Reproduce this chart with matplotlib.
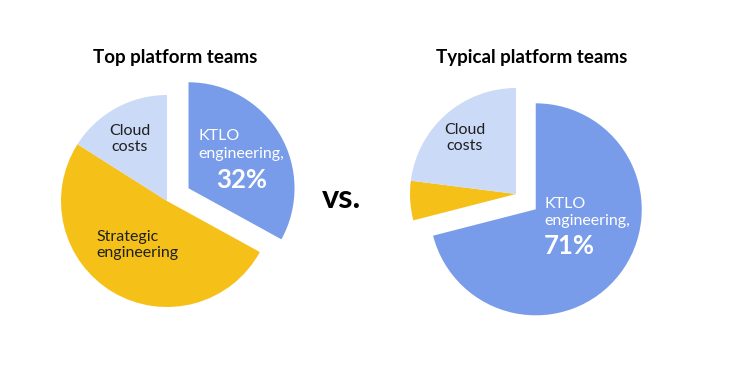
import matplotlib
matplotlib.use("Agg")
import matplotlib.pyplot as plt

plt.rcParams['font.family'] = ['Lato', 'DejaVu Sans']

# data: share of platform team time, clockwise from 12 o'clock
# (wedge sizes as drawn in the picture; the labels are the printed ones)
slices = ['KTLO engineering', 'Strategic engineering', 'Cloud costs']
colors = ['#789CE9', '#F5C018', '#CBDAF6']
top_teams = [33, 51, 16]
typical_teams = [71, 6, 23]
ktlo_labels = ['32%', '71%']
titles = ['Top platform teams', 'Typical platform teams']

W, H = 738, 383
fig = plt.figure(figsize=(W / 100, H / 100), dpi=100)
ax = fig.add_axes([0, 0, 1, 1])

R = 106
for vals, (cx, cy) in [(top_teams, (167, H - 201)), (typical_teams, (516, H - 194))]:
    # explode is in data units (pixels here)
    ax.pie(vals, colors=colors, startangle=90, counterclock=False,
           explode=[25, 0, 0], radius=R, center=(cx, cy),
           wedgeprops=dict(linewidth=0), frame=True)
ax.set_xlim(0, W)
ax.set_ylim(0, H)
ax.set_aspect('equal')
ax.axis('off')

dark = '#1f1f1f'
ax.text(175, H - 58, titles[0], ha='center', va='center', fontsize=13.5, fontweight='bold', color='black')
ax.text(532, H - 58, titles[1], ha='center', va='center', fontsize=13.5, fontweight='bold', color='black')
ax.text(341, H - 198, 'vs.', ha='center', va='center', fontsize=23.5, fontweight='bold', color='black')

# left pie labels
ax.text(198, H - 136, 'KTLO', ha='left', va='center', fontsize=11.5, color='white')
ax.text(198, H - 154, 'engineering,', ha='left', va='center', fontsize=11.5, color='white')
ax.text(242, H - 180, ktlo_labels[0], ha='center', va='center', fontsize=18.5, fontweight='bold', color='white')
ax.text(130, H - 139, 'Cloud\ncosts', ha='center', va='center', fontsize=11.5, color=dark, linespacing=1.15)
ax.text(96, H - 245, 'Strategic\nengineering', ha='left', va='center', fontsize=11.5, color=dark, linespacing=1.15)

# right pie labels
ax.text(544, H - 204, 'KTLO', ha='left', va='center', fontsize=11.5, color='white')
ax.text(544, H - 221, 'engineering,', ha='left', va='center', fontsize=11.5, color='white')
ax.text(544, H - 246, ktlo_labels[1], ha='left', va='center', fontsize=18.5, fontweight='bold', color='white')
ax.text(465, H - 138, 'Cloud\ncosts', ha='center', va='center', fontsize=11.5, color=dark, linespacing=1.15)

fig.savefig('out.png', dpi=100, facecolor='white')
